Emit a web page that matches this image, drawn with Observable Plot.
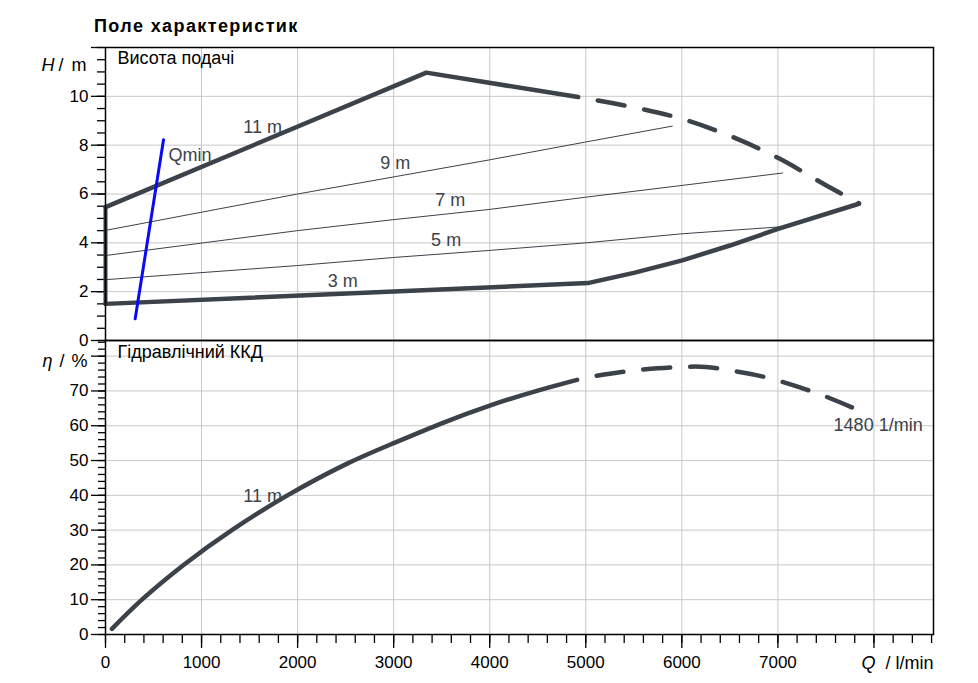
<!DOCTYPE html>
<html><head><meta charset="utf-8">
<script src="https://cdn.jsdelivr.net/npm/d3@7"></script>
<script src="https://cdn.jsdelivr.net/npm/@observablehq/plot@0.6"></script>
<style>
body{margin:0;background:#fff;font-family:"Liberation Sans",Arial,sans-serif;}
#wrap{position:relative;width:978px;height:683px;overflow:hidden;}
#title{position:absolute;left:94px;top:16px;font-weight:bold;font-size:18px;letter-spacing:1.4px;color:#000;}
#top,#bot{position:absolute;left:0;}
#top{top:0}
#bot{top:340px}
svg [aria-label="x-axis tick label"], svg [aria-label="y-axis tick label"]{font-size:17px;}
</style></head><body>
<div id="wrap"><div id="title">Поле характеристик</div><div id="top"></div><div id="bot"></div></div>
<script>
// ---- axes / ticks ----
const qMax = 8620;
const qMajor = [0,1000,2000,3000,4000,5000,6000,7000,8000];
const qGrid = [1000,2000,3000,4000,5000,6000,7000,8000];
const qMinor = d3.range(0, 8601, 200);
const hMajor = [0,2,4,6,8,10,12];
const hGrid = [2,4,6,8,10];
const hMinor = d3.range(0, 12.01, 0.5);
const etaMax = 84.5;
const etaMajor = [0,10,20,30,40,50,60,70,80];
const etaGrid = [10,20,30,40,50,60,70,80];
const etaMinor = d3.range(0, 84.1, 2);

// ---- head (H) panel series: [Q l/min, H m] ----
const h11Solid = [[0,5.46],[3340,10.97],[4921,9.97]];
const h11Dash = [[4921,9.97],[5500,9.55],[6000,9.08],[6500,8.38],[7000,7.48],[7500,6.36],[7844,5.62]];
const h3Bound = [[0,1.5],[5021,2.35],[5500,2.77],[6004,3.28],[6500,3.89],[7010,4.58],[7844,5.6]];
const leftEdge = [[0,1.5],[0,5.46]];
const h9 = [[0,4.51],[2000,6.0],[4000,7.4],[5000,8.13],[5900,8.78]];
const h7 = [[0,3.48],[2000,4.5],[3000,4.95],[4000,5.37],[5000,5.87],[6000,6.35],[7050,6.86]];
const h5 = [[0,2.49],[2000,3.07],[3000,3.4],[4000,3.69],[5000,4.0],[6000,4.37],[7080,4.67]];
const qmin = [[309,0.89],[604,8.22]];
const hLabels = [
  {q:1635, h:8.73, t:"11 m"},
  {q:3017, h:7.26, t:"9 m"},
  {q:3590, h:5.74, t:"7 m"},
  {q:3546, h:4.10, t:"5 m"},
  {q:2469, h:2.42, t:"3 m"}
];
const qminLabel = [{q:655, h:7.58, t:"Qmin"}];

// ---- efficiency panel series: [Q l/min, eta %] ----
const etaSolid = [[67,1.6],[379,10],[813,20],[1316,30],[1889,39.9],[2500,48.9],[3000,55.0],[3500,60.7],[4000,65.8],[4500,70.1],[4910,73.2]];
const etaDash = [[4910,73.2],[5000,73.85],[5250,74.95],[5500,75.85],[5750,76.5],[6000,76.9],[6250,76.9],[6500,75.9],[6750,74.7],[7000,73.0],[7250,70.8],[7500,68.4],[7844,64.4]];
const etaCurveLabel = [{q:1635, e:39.7, t:"11 m"}];
const etaSpeedLabel = [{q:7580, e:60.1, t:"1480 1/min"}];

const dark = "#3b424a";
const gridColor = "#c8c8c8";
const font = "'Liberation Sans', Arial, sans-serif";
const styleObj = {background:"transparent", overflow:"visible", fontFamily:font, fontSize:"17px", color:"#000"};
const X = d => d[0], Y = d => d[1];
const LBL = 18;

const topPlot = Plot.plot({
  width: 978, height: 350,
  marginLeft: 105, marginRight: 45, marginTop: 47, marginBottom: 10,
  x: {domain: [0, qMax], axis: null, label: null},
  y: {domain: [0, 12], label: null},
  style: styleObj,
  marks: [
    Plot.gridX(qGrid, {stroke: gridColor, strokeOpacity: 1, strokeWidth: 1}),
    Plot.gridY(hGrid, {stroke: gridColor, strokeOpacity: 1, strokeWidth: 1}),
    Plot.axisY(hMinor, {tickSize: 8, tickFormat: () => "", label: null, strokeWidth: 1.3}),
    Plot.axisY(hMajor, {tickSize: 14, tickPadding: 3, tickFormat: d => d === 12 ? "" : String(d), label: null, strokeWidth: 1.3, fontSize: 17}),
    Plot.line(h9, {x: X, y: Y, stroke: dark, strokeWidth: 1}),
    Plot.line(h7, {x: X, y: Y, stroke: dark, strokeWidth: 1}),
    Plot.line(h5, {x: X, y: Y, stroke: dark, strokeWidth: 1}),
    Plot.line(h11Solid, {x: X, y: Y, stroke: dark, strokeWidth: 4.5, strokeLinecap: "round", strokeLinejoin: "round"}),
    Plot.line(h11Dash, {x: X, y: Y, stroke: dark, strokeWidth: 4.5, strokeLinecap: "round", curve: "catmull-rom", strokeDasharray: "27,20", strokeDashoffset: 27}),
    Plot.line(h3Bound, {x: X, y: Y, stroke: dark, strokeWidth: 4.5, strokeLinecap: "round", strokeLinejoin: "round"}),
    Plot.line(leftEdge, {x: X, y: Y, stroke: dark, strokeWidth: 4}),
    Plot.line(qmin, {x: X, y: Y, stroke: "#0a0af5", strokeWidth: 3, strokeLinecap: "round"}),
    Plot.text(hLabels, {x: "q", y: "h", text: "t", fill: dark, fontSize: LBL, textAnchor: "middle"}),
    Plot.text(qminLabel, {x: "q", y: "h", text: "t", fill: dark, fontSize: LBL, textAnchor: "start"}),
    Plot.text(["Висота подачі"], {frameAnchor: "top-left", dx: 12, dy: 11, textAnchor: "start", lineAnchor: "middle", fill: "#000", fontSize: LBL}),
    Plot.text(["H"], {frameAnchor: "top-left", dx: -64, dy: 18, textAnchor: "start", lineAnchor: "middle", fill: "#000", fontSize: LBL, fontStyle: "italic"}),
    Plot.text(["/"], {frameAnchor: "top-left", dx: -47, dy: 18, textAnchor: "start", lineAnchor: "middle", fill: "#000", fontSize: LBL}),
    Plot.text(["m"], {frameAnchor: "top-left", dx: -34, dy: 18, textAnchor: "start", lineAnchor: "middle", fill: "#000", fontSize: LBL}),
    Plot.frame({stroke: "#000", strokeWidth: 1.5})
  ]
});
document.getElementById("top").append(topPlot);

const botPlot = Plot.plot({
  width: 978, height: 343,
  marginLeft: 105, marginRight: 45, marginTop: 0, marginBottom: 49,
  x: {domain: [0, qMax], label: null},
  y: {domain: [0, etaMax], label: null},
  style: styleObj,
  marks: [
    Plot.gridX(qGrid, {stroke: gridColor, strokeOpacity: 1, strokeWidth: 1}),
    Plot.gridY(etaGrid, {stroke: gridColor, strokeOpacity: 1, strokeWidth: 1}),
    Plot.axisY(etaMinor, {tickSize: 7, tickFormat: () => "", label: null, strokeWidth: 1.3}),
    Plot.axisY(etaMajor, {tickSize: 14, tickPadding: 3, tickFormat: d => d === 80 ? "" : String(d), label: null, strokeWidth: 1.3, fontSize: 17}),
    Plot.axisX(qMinor, {tickSize: 9, tickFormat: () => "", label: null, strokeWidth: 1.3}),
    Plot.axisX(qMajor, {tickSize: 14, tickPadding: 7, tickFormat: d => d === 8000 ? "" : String(d), label: null, strokeWidth: 1.3, fontSize: 17}),
    Plot.line(etaSolid, {x: X, y: Y, stroke: dark, strokeWidth: 4.5, strokeLinecap: "round", curve: "natural"}),
    Plot.line(etaDash, {x: X, y: Y, stroke: dark, strokeWidth: 4.5, strokeLinecap: "round", curve: "natural", strokeDasharray: "27,20", strokeDashoffset: 27}),
    Plot.text(etaCurveLabel, {x: "q", y: "e", text: "t", fill: dark, fontSize: LBL, textAnchor: "middle"}),
    Plot.text(etaSpeedLabel, {x: "q", y: "e", text: "t", fill: dark, fontSize: LBL, textAnchor: "start"}),
    Plot.text(["Гідравлічний ККД"], {frameAnchor: "top-left", dx: 12, dy: 12, textAnchor: "start", lineAnchor: "middle", fill: "#000", fontSize: LBL}),
    Plot.text(["η"], {frameAnchor: "top-left", dx: -63, dy: 20.5, textAnchor: "start", lineAnchor: "middle", fill: "#000", fontSize: LBL, fontStyle: "italic"}),
    Plot.text(["/"], {frameAnchor: "top-left", dx: -46, dy: 20.5, textAnchor: "start", lineAnchor: "middle", fill: "#000", fontSize: LBL}),
    Plot.text(["%"], {frameAnchor: "top-left", dx: -34, dy: 20.5, textAnchor: "start", lineAnchor: "middle", fill: "#000", fontSize: LBL}),
    Plot.text(["Q"], {frameAnchor: "bottom-right", dx: -72, dy: 29, textAnchor: "start", lineAnchor: "middle", fill: "#000", fontSize: LBL, fontStyle: "italic"}),
    Plot.text(["/ l/min"], {frameAnchor: "bottom-right", dx: 0, dy: 29, textAnchor: "end", lineAnchor: "middle", fill: "#000", fontSize: LBL}),
    Plot.frame({stroke: "#000", strokeWidth: 1.5})
  ]
});
document.getElementById("bot").append(botPlot);
</script>
</body></html>
